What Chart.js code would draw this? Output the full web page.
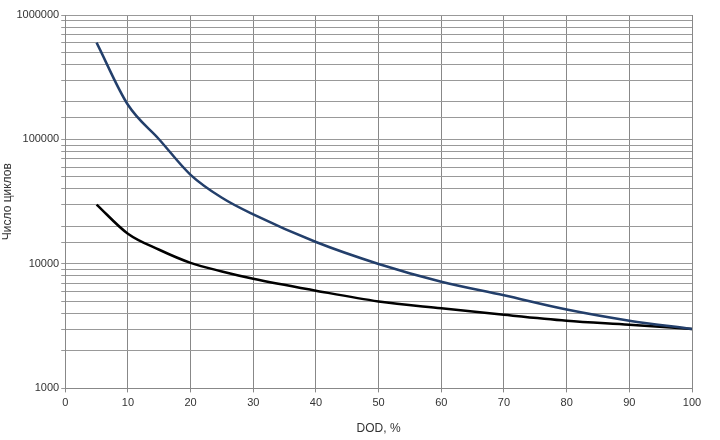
<!DOCTYPE html>
<html>
<head>
<meta charset="utf-8">
<script src="https://cdn.jsdelivr.net/npm/chart.js@4"></script>
<style>
  body { margin: 0; background: #fff; }
  #wrap { width: 720px; height: 440px; }
</style>
</head>
<body>
<div id="wrap"><canvas id="c"></canvas></div>
<script>
const dod = [5, 10, 15, 20, 25, 30, 40, 50, 60, 70, 80, 90, 100];
const cyclesUpper = [600000, 190000, 100000, 52000, 34000, 25000, 15000, 10000, 7200, 5600, 4300, 3500, 3000];
const cyclesLower = [30000, 17500, 13000, 10200, 8700, 7600, 6100, 5000, 4400, 3900, 3500, 3250, 3000];
const yLabels = [1000, 10000, 100000, 1000000];

const toPts = vals => vals.map((v, i) => ({ x: dod[i], y: v }));

new Chart(document.getElementById('c'), {
  type: 'line',
  data: {
    datasets: [
      { data: toPts(cyclesUpper), borderColor: '#233f6b', borderWidth: 2.5, pointRadius: 0, cubicInterpolationMode: 'monotone' },
      { data: toPts(cyclesLower), borderColor: '#000000', borderWidth: 2.5, pointRadius: 0, cubicInterpolationMode: 'monotone' }
    ]
  },
  options: {
    responsive: true, maintainAspectRatio: false, animation: false,
    layout: { padding: { top: 15, right: 28, left: 0, bottom: 2 } },
    plugins: { legend: { display: false }, tooltip: { enabled: false } },
    scales: {
      x: {
        type: 'linear', min: 0, max: 100,
        ticks: { stepSize: 10, color: '#333', padding: 4, font: { family: 'Liberation Sans', size: 11 } },
        grid: { color: '#888', tickLength: 4 },
        border: { color: '#888' },
        title: { display: true, text: 'DOD, %', color: '#333', padding: { top: 8, bottom: 2 }, font: { family: 'Liberation Sans', size: 12 } }
      },
      y: {
        type: 'logarithmic', min: 1000, max: 1000000,
        ticks: {
          color: '#333', padding: 2, font: { family: 'Liberation Sans', size: 11 }, autoSkip: false,
          callback: v => yLabels.includes(v) ? String(v) : ''
        },
        grid: { color: '#999', tickLength: 4 },
        border: { color: '#888' },
        title: { display: true, text: 'Число циклов', color: '#333', padding: 0, font: { family: 'Liberation Sans', size: 12 } }
      }
    }
  }
});
</script>
</body>
</html>
